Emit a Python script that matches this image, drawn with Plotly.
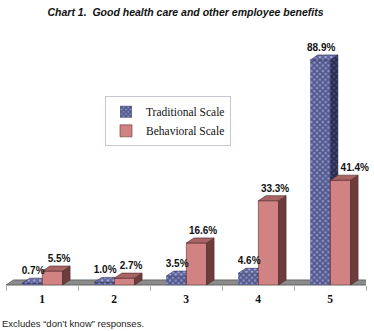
import plotly.graph_objects as go

categories = ["1", "2", "3", "4", "5"]
traditional = [0.7, 1.0, 3.5, 4.6, 88.9]
behavioral = [5.5, 2.7, 16.6, 33.3, 41.4]
series_names = ["Traditional Scale", "Behavioral Scale"]

W = 0.28          # bar width (category units)
OFF_T = -0.275    # traditional bar offset
OFF_B = 0.005     # behavioral bar offset
DX = 0.105        # 3D depth, x (category units)
DY = 2.0          # 3D depth, y (percent units)
YMAX = 96.8
LAB_SHIFT = 0.04  # label nudge away from the pair centre

xpos = list(range(1, len(categories) + 1))


def faces(vals, off):
    tx, ty, sx, sy = [], [], [], []
    for x, v in zip(xpos, vals):
        x0 = x + off
        x1 = x0 + W
        tx += [x0, x1, x1 + DX, x0 + DX, x0, None]
        ty += [v, v, v + DY, v + DY, v, None]
        sx += [x1, x1 + DX, x1 + DX, x1, x1, None]
        sy += [0, DY, v + DY, v, 0, None]
    return tx, ty, sx, sy


TRAD_PAT = dict(shape="x", fgcolor="#15173f", bgcolor="#8e96cf", size=4, solidity=0.7)

fig = go.Figure()

# Traditional (subplot 1)
fig.add_trace(go.Bar(
    x=xpos, y=traditional, width=W, offset=OFF_T, name=series_names[0],
    marker=dict(color="#8e96cf", line=dict(width=0), pattern=TRAD_PAT),
    xaxis="x", yaxis="y", legendrank=1,
))
tx, ty, sx, sy = faces(traditional, OFF_T)
fig.add_trace(go.Scatter(x=sx, y=sy, fill="toself", mode="lines", line=dict(width=0.5, color="#14163a"),
                         fillcolor="#30355f",
                         fillpattern=dict(shape="x", fgcolor="#0c0e24", bgcolor="#454b7c", size=4, solidity=0.7),
                         showlegend=False, hoverinfo="skip", xaxis="x", yaxis="y"))
fig.add_trace(go.Scatter(x=tx, y=ty, fill="toself", mode="lines", line=dict(width=0.5, color="#14163a"),
                         fillcolor="#7e86c0",
                         fillpattern=dict(shape="x", fgcolor="#1c1f52", bgcolor="#a4aae0", size=4, solidity=0.7),
                         showlegend=False, hoverinfo="skip", xaxis="x", yaxis="y"))

# Behavioral (subplot 2, overlaid on top)
fig.add_trace(go.Bar(
    x=xpos, y=behavioral, width=W, offset=OFF_B, name=series_names[1],
    marker=dict(color="#d18383", line=dict(width=0.6, color="#5a3030")),
    xaxis="x2", yaxis="y2", legendrank=2,
))
tx, ty, sx, sy = faces(behavioral, OFF_B)
fig.add_trace(go.Scatter(x=sx, y=sy, fill="toself", mode="lines", line=dict(width=0.6, color="#4a2828"),
                         fillcolor="#6e3c3c", showlegend=False, hoverinfo="skip", xaxis="x2", yaxis="y2"))
fig.add_trace(go.Scatter(x=tx, y=ty, fill="toself", mode="lines", line=dict(width=0.6, color="#4a2828"),
                         fillcolor="#a86464", showlegend=False, hoverinfo="skip", xaxis="x2", yaxis="y2"))

# Value labels
lab_font = dict(family="Liberation Sans, Arial, sans-serif", size=10, color="#111111", weight="bold")
fig.add_trace(go.Scatter(
    x=[x + OFF_T + W / 2 + DX / 2 - LAB_SHIFT for x in xpos], y=[v + DY + 0.6 for v in traditional],
    text=[f"{v:.1f}%" for v in traditional], mode="text", textposition="top center",
    textfont=lab_font, showlegend=False, hoverinfo="skip", cliponaxis=False, xaxis="x2", yaxis="y2"))
beh_pos = ["top right" if t > b else "top center" for t, b in zip(traditional, behavioral)]
fig.add_trace(go.Scatter(
    x=[x + OFF_B + W / 2 + DX / 2 + (LAB_SHIFT if p == "top center" else -0.05)
       for x, p in zip(xpos, beh_pos)],
    y=[v + DY + 0.6 for v in behavioral],
    text=[f"{v:.1f}%" for v in behavioral], mode="text", textposition=beh_pos,
    textfont=lab_font, showlegend=False, hoverinfo="skip", cliponaxis=False, xaxis="x2", yaxis="y2"))

x_lo, x_hi = 0.5, len(categories) + 0.5

fig.update_layout(
    width=374, height=331,
    margin=dict(l=6, r=8, t=40, b=46),
    paper_bgcolor="white", plot_bgcolor="white",
    barmode="overlay",
    title=dict(text="Chart 1.  Good health care and other employee benefits",
               x=0.496, xanchor="center", y=0.964, yanchor="middle",
               font=dict(family="Liberation Sans Narrow, Liberation Sans, Arial, sans-serif",
                         size=10.5, color="#111111", weight="bold", style="italic")),
    xaxis=dict(range=[x_lo, x_hi], tickvals=[i + 0.5 for i in range(len(categories) + 1)],
               showticklabels=False, ticks="outside", ticklen=5, tickcolor="#b0b0b0",
               showline=True, linecolor="#b0b0b0", showgrid=False, zeroline=False, fixedrange=True),
    yaxis=dict(range=[0, YMAX], visible=False, fixedrange=True),
    xaxis2=dict(range=[x_lo, x_hi], overlaying="x", side="bottom", tickvals=xpos, ticktext=categories,
                ticks="outside", ticklen=3, tickcolor="rgba(0,0,0,0)", showline=False, showgrid=False,
                zeroline=False,
                tickfont=dict(family="Liberation Serif, Times New Roman, serif", size=11.5, color="#111111",
                              weight="bold")),
    yaxis2=dict(range=[0, YMAX], overlaying="y", visible=False),
    legend=dict(x=0.275, y=0.77, xanchor="left", yanchor="top", bgcolor="white",
                bordercolor="#c4c6d6", borderwidth=1, traceorder="normal",
                font=dict(family="Liberation Serif, Times New Roman, serif", size=11.5, color="#111111"),
                itemwidth=30, tracegroupgap=0),
    shapes=[dict(type="path", xref="x", yref="y", layer="below",
                 path=f"M {x_lo},0 L {x_hi},0 L {x_hi + DX},{DY} L {x_lo + DX},{DY} Z",
                 fillcolor="#8c8c8c", line=dict(color="#555555", width=0.8))],
    annotations=[dict(text="Excludes \u201cdon\u2019t know\u201d responses.", xref="paper", yref="paper",
                      x=-6 / 360, y=-38 / 245, xanchor="left", yanchor="middle", showarrow=False,
                      font=dict(family="Liberation Sans, Arial, sans-serif", size=9.5, color="#222222"))],
)

fig.write_html("out.html")
